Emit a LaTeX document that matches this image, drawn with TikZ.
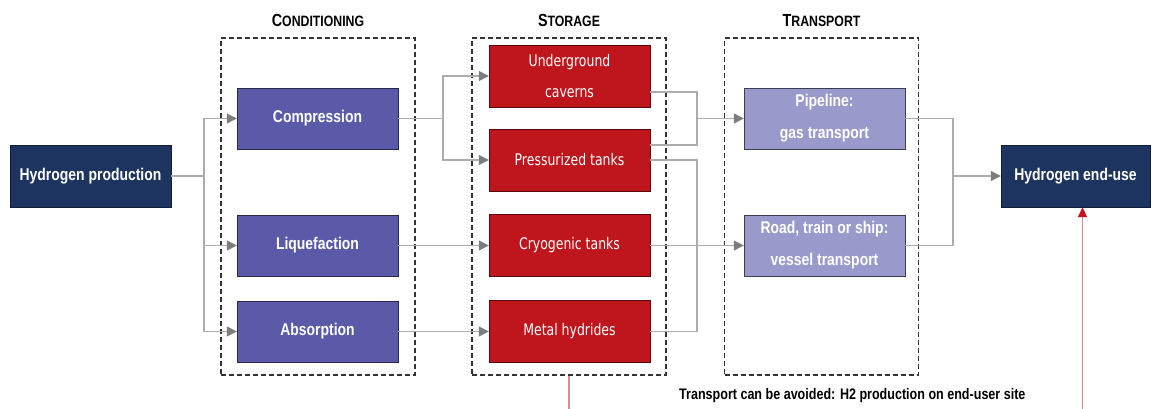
\documentclass[tikz,border=0pt]{standalone}
\usepackage{fontspec}
\setmainfont{Liberation Sans}[FakeStretch=0.82]
\newfontfamily\storefont{DejaVu Sans}[FakeStretch=0.78]
\usetikzlibrary{arrows.meta,positioning}
\definecolor{prodnavy}{RGB}{29,52,96}
\definecolor{condpurple}{RGB}{90,90,168}
\definecolor{storred}{RGB}{190,22,28}
\definecolor{tranpurple}{RGB}{153,153,204}
\definecolor{linegray}{RGB}{172,172,172}
\definecolor{tipgray}{RGB}{125,125,125}
\definecolor{redline}{RGB}{222,135,140}
\definecolor{redtip}{RGB}{200,20,30}
\newcommand\grpcap[2]{{\fontsize{17.5}{17.5}\selectfont #1}{\fontsize{15}{15}\selectfont #2}}

\begin{document}
\begin{tikzpicture}[x=1pt,y=-1pt, font=\bfseries\fontsize{17}{32}\selectfont,
 endbox/.style={draw=prodnavy!55!black,fill=prodnavy,text=white,minimum height=62pt,inner sep=0pt,align=center},
 condbox/.style={draw=condpurple!45!black,fill=condpurple,text=white,minimum width=161pt,minimum height=61pt,inner sep=0pt,align=center},
 storbox/.style={draw=storred!45!black,fill=storred,text=white,minimum width=161pt,minimum height=62pt,inner sep=0pt,align=center,font=\storefont\fontsize{16}{31}\selectfont},
 tranbox/.style={draw=tranpurple!40!black,fill=tranpurple,text=white,minimum width=161pt,minimum height=61pt,inner sep=0pt,align=center},
 group/.style={draw=black!80,dash pattern=on 5pt off 3pt,line width=1.1pt,minimum width=194pt,minimum height=337pt,inner sep=0pt},
 grptitle/.style={inner sep=0pt,above=11pt of #1},
 link/.style={draw=linegray,line width=1.4pt},
 arr/.style={link,-{Triangle[length=10pt,width=10pt,color=tipgray]}},
 redarr/.style={draw=redline,line width=1.6pt,-{Triangle[length=10pt,width=9pt,color=redtip]}}]
\useasboundingbox (0,0) rectangle (1160,408);
% groups
\node[group] (condgrp) at (318,206.5) {};
\node[group] (storgrp) at (569,206.5) {};
\node[group] (trangrp) at (821.5,206.5) {};
\node[grptitle=condgrp] (condttl) {\grpcap{C}{ONDITIONING}};
\node[grptitle=storgrp] (storttl) {\grpcap{S}{TORAGE}};
\node[grptitle=trangrp] (tranttl) {\grpcap{T}{RANSPORT}};
% boxes
\node[endbox,minimum width=161pt] (prod) at (90.5,176) {Hydrogen production};
\node[endbox,minimum width=149pt] (enduse) at (1075.5,176) {Hydrogen end-use};
\node[condbox] (comp) at (317.5,118.5) {Compression};
\node[condbox] (liq) at (317.5,245.5) {Liquefaction};
\node[condbox] (abs) at (317.5,331.5) {Absorption};
\node[storbox] (cav) at (569.5,76) {Underground\\caverns};
\node[storbox] (press) at (569.5,160) {Pressurized tanks};
\node[storbox] (cryo) at (569.5,245.5) {Cryogenic tanks};
\node[storbox] (metal) at (569.5,331.5) {Metal hydrides};
\node[tranbox] (pipe) at (824.5,118.5) {Pipeline:\\gas transport};
\node[tranbox] (road) at (824.5,245.5) {Road, train or ship:\\vessel transport};
\node[anchor=west,inner sep=0pt,font=\bfseries\fontsize{15.3}{15.3}\selectfont] (avoid) at (679,396) {Transport can be avoided: H2 production on end-user site};
% connectors
\coordinate (split1) at (204,176); \coordinate (split2) at (443,118.5);
\coordinate (join1) at (697,118.5); \coordinate (join2) at (697,245.5); \coordinate (join3) at (953,176);
\draw[link] (prod) -- (split1); \draw[arr] (split1) |- (comp); \draw[arr] (split1) |- (liq); \draw[arr] (split1) |- (abs);
\draw[link] (comp) -- (split2); \draw[arr] (split2) |- (cav); \draw[arr] (split2) |- (press);
\draw[arr] (liq) -- (cryo); \draw[arr] (abs) -- (metal);
\draw[link] ([yshift=-16pt]cav.east) -| (join1) |- ([yshift=15pt]press.east); \draw[arr] (join1) -- (pipe);
\draw[link] (press.east) -| (join2) |- (metal.east); \draw[arr] (cryo) -- (road);
\draw[link] (pipe.east) -| (join3) |- (road.east); \draw[arr] (join3) -- (enduse);
\draw[redarr] (storgrp.south) -- ++(0,60) -| ([xshift=7pt]enduse.south);
\end{tikzpicture}
\end{document}
